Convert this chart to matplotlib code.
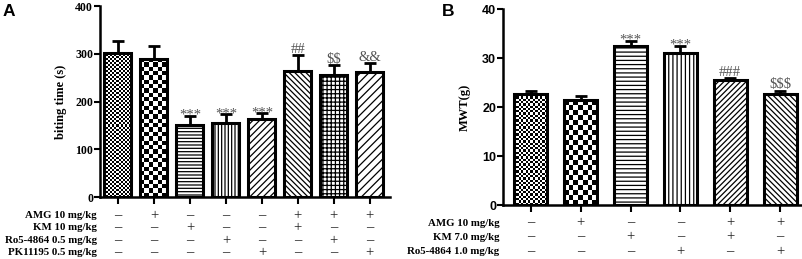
import numpy as np
import matplotlib
matplotlib.use("Agg")
import matplotlib.pyplot as plt
from matplotlib.transforms import blended_transform_factory

plt.rcParams['hatch.linewidth'] = 0.9
plt.rcParams['text.parse_math'] = False

# ---- panel A data ----
a_mean = [302, 290, 151, 156, 163, 264, 256, 261]
a_sem = [25, 26, 19, 17, 12, 33, 20, 19]
a_marks = ['', '', '***', '***', '***', '##', '$$', '&&']
a_rows = ['AMG 10 mg/kg', 'KM 10 mg/kg', 'Ro5-4864 0.5 mg/kg', 'PK11195 0.5 mg/kg']
a_table = [
    [0, 1, 0, 0, 0, 1, 1, 1],
    [0, 0, 1, 0, 0, 1, 0, 0],
    [0, 0, 0, 1, 0, 0, 1, 0],
    [0, 0, 0, 0, 1, 0, 0, 1],
]
a_fill = [('check', 2.0), ('check', 4.3), '-----', '|||||', '/////', '\\\\\\\\\\\\', '++++', '////']

# ---- panel B data ----
b_mean = [22.6, 21.4, 32.4, 31.0, 25.5, 22.7]
b_sem = [0.6, 0.9, 1.2, 1.6, 0.4, 0.7]
b_marks = ['', '', '***', '***', '###', '$$$']
b_rows = ['AMG 10 mg/kg', 'KM 7.0 mg/kg', 'Ro5-4864 1.0 mg/kg']
b_table = [
    [0, 1, 0, 0, 1, 1],
    [0, 0, 1, 0, 1, 0],
    [0, 0, 0, 1, 0, 1],
]
b_fill = [('check', 2.3), ('check', 5.0), '----', '||||', '//////', '\\\\\\\\\\\\']

SERIF = 'Liberation Serif'
SANS = 'Liberation Sans'

fig = plt.figure(figsize=(8.03, 2.59), dpi=100)


def checker(ax, patch, cell_px):
    x0, y0 = patch.get_x(), patch.get_y()
    w, h = patch.get_width(), patch.get_height()
    p0 = ax.transData.transform((x0, y0))
    p1 = ax.transData.transform((x0 + w, y0 + h))
    nx = max(1, int(round((p1[0] - p0[0]) / cell_px)))
    ny = max(1, int(round((p1[1] - p0[1]) / cell_px)))
    img = np.add.outer(np.arange(ny), np.arange(nx)) % 2
    im = ax.imshow(img, cmap='gray', extent=(x0, x0 + w, y0, y0 + h),
                   interpolation='nearest', aspect='auto', zorder=2.5)
    im.set_clip_path(patch)


def panel(ax, means, sems, marks, fills, width, xlim, ylim, yticks,
          tickfont, ticksize, ylabel, labelpad, rows, table, row_y):
    x = np.arange(len(means))
    ax.set_xlim(*xlim)
    ax.set_ylim(*ylim)
    ax.errorbar(x, means, yerr=[np.zeros(len(sems)), sems], fmt='none',
                ecolor='black', elinewidth=2, capsize=4.5, capthick=2, zorder=1)
    bars = ax.bar(x, means, width, color='white', edgecolor='black',
                  linewidth=0, zorder=2)
    for b, f in zip(bars, fills):
        if isinstance(f, tuple):
            checker(ax, b, f[1])
        else:
            b.set_hatch(f)
    ax.bar(x, means, width, fill=False, edgecolor='black', linewidth=2.2, zorder=3)
    ax.set_xlim(*xlim)
    ax.set_ylim(*ylim)

    for side in ('top', 'right'):
        ax.spines[side].set_visible(False)
    for side in ('left', 'bottom'):
        ax.spines[side].set_linewidth(1.8)
    ax.set_yticks(yticks)
    ax.set_yticklabels([str(t) for t in yticks], fontfamily=tickfont,
                       fontweight='bold', fontsize=ticksize)
    ax.set_xticks(x)
    ax.set_xticklabels([])
    ax.tick_params(axis='y', length=4, width=1.5, pad=1)
    ax.tick_params(axis='x', length=5, width=1.5)
    ax.set_ylabel(ylabel, fontfamily=SERIF, fontweight='bold', fontsize=9,
                  labelpad=labelpad)

    for xi, m, s, lab in zip(x, means, sems, marks):
        if lab:
            off = -2 if lab.startswith('*') else 1.5
            ax.annotate(lab, (xi, m + s), xytext=(0, off), textcoords='offset points',
                        ha='center', va='baseline', fontfamily=SERIF,
                        fontsize=10.5, color='#555555')

    tr = blended_transform_factory(ax.transData, ax.transAxes)
    tra = ax.transAxes
    for r, (name, flags) in enumerate(zip(rows, table)):
        ax.text(-0.012, row_y[r], name, transform=tra, ha='right', va='center',
                fontfamily=SERIF, fontweight='bold', fontsize=7.8, clip_on=False)
        for xi, f in zip(x, flags):
            ax.text(xi, row_y[r], '+' if f else '\u2013', transform=tr, ha='center',
                    va='center', fontfamily=SERIF, fontsize=10.5, color='#222222',
                    clip_on=False)


axA = fig.add_axes([100 / 803, 62 / 259, 290 / 803, 191 / 259])
panel(axA, a_mean, a_sem, a_marks, a_fill, 0.75, (-0.5, 7.56), (0, 400),
      [0, 100, 200, 300, 400], SERIF, 8.6, 'biting time (s)', 6, a_rows, a_table,
      [-0.095, -0.158, -0.230, -0.293])

axB = fig.add_axes([503 / 803, 54 / 259, 299 / 803, 195.7 / 259])
panel(axB, b_mean, b_sem, b_marks, b_fill, 0.66, (-0.56, 5.44), (0, 40),
      [0, 10, 20, 30, 40], SANS, 9, 'MWT(g)', 8, b_rows, b_table,
      [-0.092, -0.164, -0.240])

fig.text(3 / 803, 1 - 12 / 259, 'A', fontfamily=SANS, fontweight='bold',
         fontsize=12.5, va='center')
fig.text(442 / 803, 1 - 11.5 / 259, 'B', fontfamily=SANS, fontweight='bold',
         fontsize=12.5, va='center')

fig.savefig('out.png', dpi=100)
